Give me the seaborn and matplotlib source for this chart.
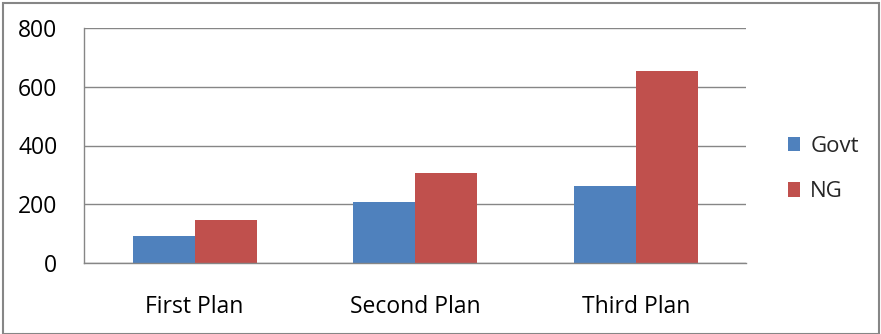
import matplotlib
matplotlib.use("Agg")
import matplotlib.pyplot as plt
import seaborn as sns
import pandas as pd
from matplotlib.patches import Rectangle, Patch
from matplotlib.ticker import FixedLocator

# Outlay per plan period, by sector
plans = ["First Plan", "Second Plan", "Third Plan"]
govt = [92, 208, 262]
ng = [147, 305, 653]
series = ["Govt", "NG"]
colors = ["#4F81BD", "#C0504D"]
yticks = [0, 200, 400, 600, 800]

df = pd.DataFrame({
    "plan": plans * 2,
    "value": govt + ng,
    "series": [series[0]] * len(plans) + [series[1]] * len(plans),
})

sns.set_style("white")
plt.rcParams["font.family"] = ["Open Sans", "DejaVu Sans"]

fig = plt.figure(figsize=(8.81, 3.34), dpi=100)
ax = fig.add_axes([84.3 / 881, 1 - 263.3 / 334, (746.3 - 84.3) / 881, (263.3 - 27.7) / 334])

sns.barplot(data=df, x="plan", y="value", hue="series", order=plans,
            hue_order=series, palette=colors, width=0.562, saturation=1,
            edgecolor="none", linewidth=0, ax=ax, legend=False)

ax.set_ylim(0, 800)
ax.set_xlim(-0.5, len(plans) - 0.5)
ax.set_yticks(yticks)
ax.set_yticklabels([str(t) for t in yticks])
ax.set_xlabel("")
ax.set_ylabel("")

grid_c = "#868686"
ax.yaxis.grid(True, color=grid_c, linewidth=1)
ax.set_axisbelow(True)
for side in ["top", "right"]:
    ax.spines[side].set_visible(False)
for side in ["left", "bottom"]:
    ax.spines[side].set_color(grid_c)
    ax.spines[side].set_linewidth(1)

ax.tick_params(axis="y", which="major", length=5.8, width=1, color=grid_c,
               pad=13.5, labelsize=16.5, labelcolor="black")
ax.tick_params(axis="x", which="major", length=0, pad=23, labelsize=16.5,
               labelcolor="black")
ax.xaxis.set_minor_locator(FixedLocator([i - 0.5 for i in range(len(plans) + 1)]))
ax.tick_params(axis="x", which="minor", length=5.8, width=1, color=grid_c)

handles = [Patch(facecolor=c, edgecolor="none") for c in colors]
fig.legend(handles, series, loc="center left",
           bbox_to_anchor=(788 / 881, 1 - 169 / 334), frameon=False,
           fontsize=16, handlelength=0.55, handleheight=0.62,
           handletextpad=0.45, labelspacing=1.1,
           borderpad=0, borderaxespad=0)

# Chart frame
fig.add_artist(Rectangle((3 / 881, 0), 876 / 881, 1 - 3 / 334,
                         transform=fig.transFigure, fill=False,
                         edgecolor="#868686", linewidth=1.5))

fig.savefig("out.png", dpi=100, facecolor="white")
